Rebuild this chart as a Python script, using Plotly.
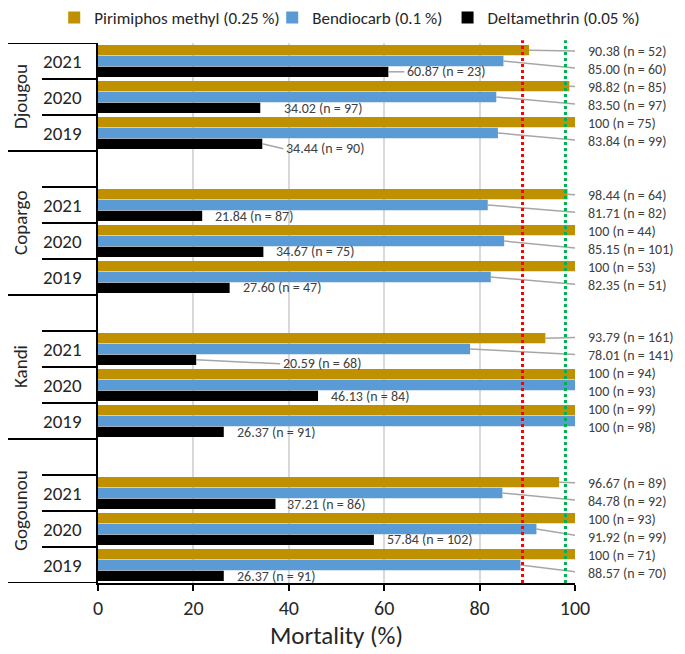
import plotly.graph_objects as go

# ---- data ----
sites = ["Djougou", "Copargo", "Kandi", "Gogounou"]
years = ["2021", "2020", "2019"]

pirimiphos = [90.38, 98.82, 100, 98.44, 100, 100, 93.79, 100, 100, 96.67, 100, 100]
pirimiphos_n = [52, 85, 75, 64, 44, 53, 161, 94, 99, 89, 93, 71]
bendiocarb = [85.00, 83.50, 83.84, 81.71, 85.15, 82.35, 78.01, 100, 100, 84.78, 91.92, 88.57]
bendiocarb_n = [60, 97, 99, 82, 101, 51, 141, 93, 98, 92, 99, 70]
deltamethrin = [60.87, 34.02, 34.44, 21.84, 34.67, 27.60, 20.59, 46.13, 26.37, 37.21, 57.84, 26.37]
deltamethrin_n = [23, 97, 90, 87, 75, 47, 68, 84, 91, 86, 102, 91]

resistance_line = 89
susceptible_line = 98

# ---- label tuning (pixels) ----
gold_dy = [1, 1, 1, 1, 1, 1, -1, -1, -1, 1, 1, 1]
blue_dy = [8, 8, 8, 8, 8, 8, 6, 6, 6, 8, 8, 8]
black_dx = [18, 23, 23, 12, 12, 12, 86, 12, 12, 11, 12, 12]
black_dy = [0, 1, 5, 1, 0, 0, 4, 1, 1, 1, 0, 1]
black_leader = [True, False, True, False, False, False, True, False, False, False, False, False]

FONT = "Carlito, Lato, sans-serif"
GOLD, BLUE, BLACK = "#BF9000", "#5B9BD5", "#000000"
# page body adds an 8px offset, so the figure is sized/margined to compensate
L, R, T, B = 90, 110, 35, 71
W, H = 677, 646
PW, PH = W - L - R, H - T - B
PX_X = 100 / PW            # data units per pixel (x)
PX_Y = 15 / PH             # slot units per pixel (y)
LABEL_X = 102.5            # left edge of the right-hand label column (data units)

slots = [4 * g + k for g in range(len(sites)) for k in range(len(years))]
year_labels = [y for _ in sites for y in years]


def fmt(v, n):
    s = "100" if v == 100 else f"{v:.2f}"
    return f"{s} (n = {n})"


fig = go.Figure()
series = [
    ("Pirimiphos methyl (0.25 %)", pirimiphos, GOLD, "legend", 0.086),
    ("Bendiocarb (0.1 %)", bendiocarb, BLUE, "legend2", 0.408),
    ("Deltamethrin (0.05 %)", deltamethrin, BLACK, "legend3", 0.667),
]
legend_style = dict(orientation="h", xref="container", yref="paper", y=1 + (T + 8) / PH,
                    xanchor="left", yanchor="top", font=dict(size=17, color="#262626"),
                    itemwidth=30, indentation=-12, bgcolor="rgba(0,0,0,0)", visible=True)
legends = {}
for name, vals, col, lg, lx in series:
    fig.add_trace(go.Bar(x=vals, y=slots, orientation="h", name=name, legend=lg, showlegend=True,
                         marker=dict(color=col, line=dict(width=0))))
    legends[lg] = dict(legend_style, x=lx)

annotations = []
shapes = []
LINE = dict(color="#A6A6A6", width=1.5)
TXT = dict(family=FONT, size=14, color="#404040")

# right-column labels for pirimiphos (offset -0.3) and bendiocarb (offset 0)
for vals, ns, dys, off in [(pirimiphos, pirimiphos_n, gold_dy, -0.3),
                           (bendiocarb, bendiocarb_n, blue_dy, 0.0)]:
    for i, s in enumerate(slots):
        yc = s + off
        ly = yc + dys[i] * PX_Y
        annotations.append(dict(x=LABEL_X / 100, y=ly, xref="paper", yref="y", text=fmt(vals[i], ns[i]),
                                showarrow=False, xanchor="left", yanchor="middle", font=TXT,
                                borderpad=0))
        if (LABEL_X - vals[i]) / PX_X > 15:
            shapes.append(dict(type="line", xref="x", yref="y", x0=vals[i], y0=yc,
                               x1=LABEL_X - 2 * PX_X, y1=ly, line=LINE))

# deltamethrin labels beside the bar end
for i, s in enumerate(slots):
    yc = s + 0.3
    lx = deltamethrin[i] + black_dx[i] * PX_X
    ly = yc + black_dy[i] * PX_Y
    annotations.append(dict(x=lx, y=ly, xref="x", yref="y", text=fmt(deltamethrin[i], deltamethrin_n[i]),
                            showarrow=False, xanchor="left", yanchor="middle", font=TXT, borderpad=0))
    if black_leader[i]:
        shapes.append(dict(type="line", xref="x", yref="y", x0=deltamethrin[i], y0=yc,
                           x1=lx - 2 * PX_X, y1=ly, line=LINE))

# threshold lines
for xv, col in [(resistance_line, "#FF0000"), (susceptible_line, "#00B050")]:
    shapes.append(dict(type="line", xref="x", yref="paper", x0=xv, x1=xv, y0=0, y1=1.005,
                       line=dict(color=col, width=3, dash="dot"), layer="above"))

# left-hand table: site and year labels with dividers
full_x0 = -(L + 8) / PW
year_x0 = -(L + 8 - 42) / PW
for g, site in enumerate(sites):
    top = -0.5 if g == 0 else 4 * g - 1.5
    bottom = 4 * g + 2.5
    shapes.append(dict(type="line", xref="paper", yref="y", x0=full_x0, x1=0, y0=bottom, y1=bottom,
                       line=dict(color="black", width=2)))
    if g == 0:
        shapes.append(dict(type="line", xref="paper", yref="y", x0=full_x0, x1=0, y0=top, y1=top,
                           line=dict(color="black", width=2)))
    for k in range(len(years)):
        yy = 4 * g + k - 0.5
        if g == 0 and k == 0:
            continue
        shapes.append(dict(type="line", xref="paper", yref="y", x0=year_x0, x1=0, y0=yy, y1=yy,
                           line=dict(color="black", width=2)))
    annotations.append(dict(x=-(L + 8 - 20) / PW, y=(top + bottom) / 2, xref="paper", yref="y",
                            text=site, textangle=-90, showarrow=False, xanchor="center",
                            font=dict(family=FONT, size=19, color="#262626")))

for s, yl in zip(slots, year_labels):
    annotations.append(dict(x=-(L + 8 - 62) / PW, y=s, xref="paper", yref="y", text=yl,
                            showarrow=False, xanchor="center",
                            font=dict(family=FONT, size=19, color="#262626")))

fig.update_layout(
    width=W, height=H,
    margin=dict(l=L, r=R, t=T, b=B, autoexpand=False),
    showlegend=True,
    barmode="group", bargap=0.1, bargroupgap=0.05,
    plot_bgcolor="white", paper_bgcolor="white",
    font=dict(family=FONT, color="#262626"),
    annotations=annotations,
    shapes=shapes,
    xaxis=dict(range=[0, 100], tickvals=[0, 20, 40, 60, 80, 100], showgrid=True,
               gridcolor="#D9D9D9", gridwidth=1.5, zeroline=False,
               showline=True, linecolor="black", linewidth=2,
               ticks="outside", ticklen=6, tickwidth=2, tickcolor="black",
               tickfont=dict(size=20, color="#262626"),
               title=dict(text="Mortality (%)", font=dict(size=25, color="#262626"), standoff=6)),
    yaxis=dict(range=[14.5, -0.5], showticklabels=False, showgrid=False, zeroline=False,
               showline=True, linecolor="black", linewidth=2, ticks=""),
    **legends,
)

fig.write_html("out.html")
